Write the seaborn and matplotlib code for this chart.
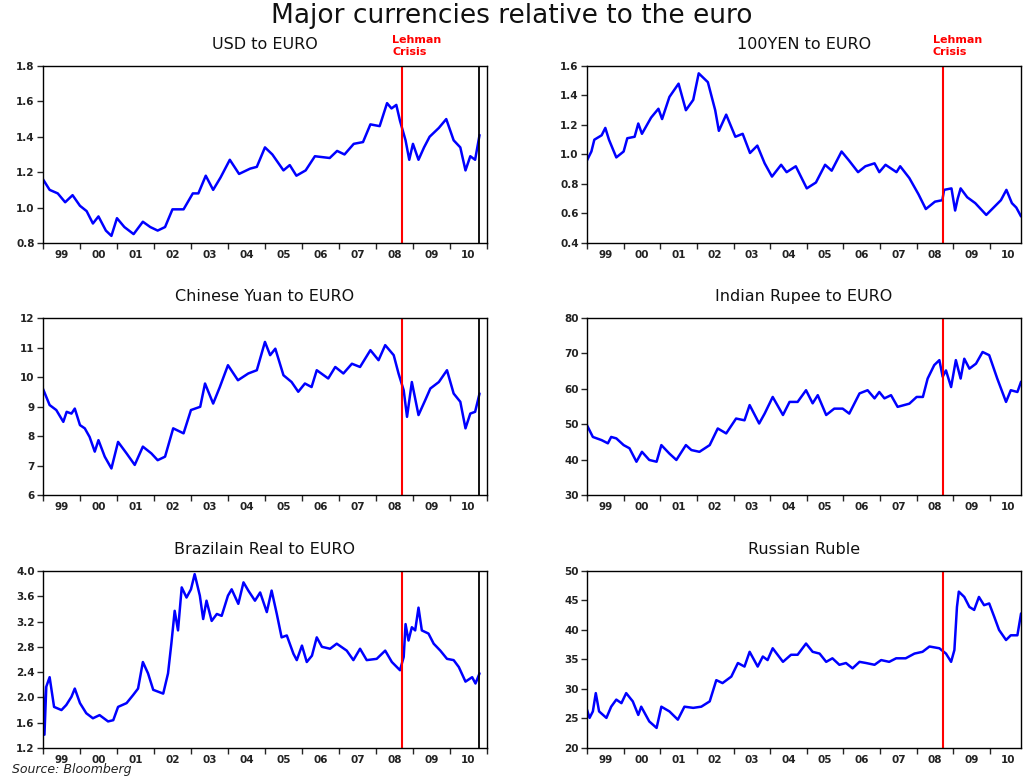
import pandas as pd
import seaborn as sns
import matplotlib.pyplot as plt
from matplotlib.ticker import FixedLocator, NullFormatter

# Values (decimal year, rate)
usd_t = [1999.0, 1999.18, 1999.4, 1999.6, 1999.8, 2000.0, 2000.18, 2000.35, 2000.5, 2000.7, 2000.85,
         2001.0, 2001.2, 2001.45, 2001.7, 2001.9, 2002.1, 2002.3, 2002.5, 2002.8, 2003.05, 2003.2,
         2003.4, 2003.6, 2003.8, 2004.05, 2004.3, 2004.6, 2004.78, 2005.0, 2005.2, 2005.5, 2005.67,
         2005.85, 2006.1, 2006.35, 2006.75, 2006.95, 2007.15, 2007.4, 2007.65, 2007.85, 2008.1,
         2008.3, 2008.42, 2008.55, 2008.65, 2008.8, 2008.9, 2009.0, 2009.15, 2009.3, 2009.45,
         2009.7, 2009.9, 2010.1, 2010.28, 2010.42, 2010.55, 2010.68, 2010.8]
usd_v = [1.16, 1.10, 1.08, 1.03, 1.07, 1.01, 0.98, 0.91, 0.95, 0.87, 0.84,
         0.94, 0.89, 0.85, 0.92, 0.89, 0.87, 0.89, 0.99, 0.99, 1.08, 1.08,
         1.18, 1.10, 1.17, 1.27, 1.19, 1.22, 1.23, 1.34, 1.30, 1.21, 1.24,
         1.18, 1.21, 1.29, 1.28, 1.32, 1.30, 1.36, 1.37, 1.47, 1.46,
         1.59, 1.56, 1.58, 1.49, 1.38, 1.27, 1.36, 1.27, 1.34, 1.40,
         1.45, 1.50, 1.38, 1.34, 1.21, 1.29, 1.27, 1.41]

yen_t = [1999.0, 1999.12, 1999.2, 1999.4, 1999.5, 1999.6, 1999.8, 2000.0, 2000.1, 2000.3, 2000.4,
         2000.5, 2000.75, 2000.95, 2001.05, 2001.25, 2001.5, 2001.7, 2001.9, 2002.05, 2002.3,
         2002.5, 2002.6, 2002.8, 2003.05, 2003.25, 2003.45, 2003.65, 2003.85, 2004.05, 2004.3,
         2004.45, 2004.7, 2005.0, 2005.25, 2005.5, 2005.68, 2005.95, 2006.15, 2006.4, 2006.6,
         2006.85, 2006.98, 2007.15, 2007.45, 2007.55, 2007.8, 2008.05, 2008.25, 2008.5, 2008.7,
         2008.75, 2008.95, 2009.05, 2009.12, 2009.2, 2009.38, 2009.6, 2009.9, 2010.1, 2010.3,
         2010.45, 2010.6, 2010.72, 2010.85]
yen_v = [0.96, 1.02, 1.10, 1.13, 1.18, 1.10, 0.98, 1.02, 1.11, 1.12, 1.21,
         1.14, 1.25, 1.31, 1.24, 1.39, 1.48, 1.30, 1.37, 1.55, 1.49,
         1.30, 1.16, 1.27, 1.12, 1.14, 1.01, 1.06, 0.94, 0.85, 0.93,
         0.88, 0.92, 0.77, 0.81, 0.93, 0.89, 1.02, 0.96, 0.88, 0.92,
         0.94, 0.88, 0.93, 0.88, 0.92, 0.84, 0.73, 0.63, 0.68, 0.69,
         0.76, 0.77, 0.62, 0.70, 0.77, 0.71, 0.67, 0.59, 0.64, 0.69,
         0.76, 0.67, 0.64, 0.58]

cny_t = [1999.0, 1999.18, 1999.36, 1999.55, 1999.64, 1999.77, 1999.86, 2000.0, 2000.13, 2000.26,
         2000.4, 2000.5, 2000.67, 2000.85, 2001.03, 2001.26, 2001.48, 2001.7, 2001.93, 2002.1,
         2002.3, 2002.52, 2002.8, 2003.0, 2003.25, 2003.38, 2003.6, 2003.78, 2004.0, 2004.27,
         2004.55, 2004.78, 2005.0, 2005.14, 2005.28, 2005.5, 2005.72, 2005.9, 2006.08, 2006.26,
         2006.4, 2006.71, 2006.9, 2007.12, 2007.35, 2007.57, 2007.85, 2008.07, 2008.25, 2008.48,
         2008.61, 2008.75, 2008.84, 2008.97, 2009.15, 2009.33, 2009.47, 2009.7, 2009.92, 2010.1,
         2010.28, 2010.42, 2010.55, 2010.68, 2010.8]
cny_v = [9.6, 9.05, 8.88, 8.48, 8.82, 8.76, 8.93, 8.37, 8.26, 7.97,
         7.47, 7.86, 7.3, 6.9, 7.8, 7.41, 7.02, 7.64, 7.41, 7.18,
         7.3, 8.26, 8.09, 8.88, 8.99, 9.78, 9.1, 9.66, 10.4, 9.89,
         10.12, 10.23, 11.19, 10.74, 10.96, 10.06, 9.83, 9.5, 9.78, 9.66,
         10.23, 9.95, 10.34, 10.12, 10.45, 10.34, 10.91, 10.57, 11.08, 10.74,
         10.12, 9.55, 8.65, 9.83, 8.71, 9.21, 9.61, 9.83, 10.23, 9.44,
         9.16, 8.26, 8.76, 8.82, 9.44]

inr_t = [1999.0, 1999.16, 1999.4, 1999.57, 1999.66, 1999.8, 2000.0, 2000.16, 2000.35, 2000.5,
         2000.7, 2000.9, 2001.03, 2001.25, 2001.44, 2001.7, 2001.85, 2002.07, 2002.35, 2002.57,
         2002.8, 2003.07, 2003.3, 2003.44, 2003.7, 2003.85, 2004.07, 2004.35, 2004.53, 2004.75,
         2004.98, 2005.16, 2005.3, 2005.53, 2005.75, 2005.98, 2006.16, 2006.44, 2006.66, 2006.85,
         2006.98, 2007.12, 2007.3, 2007.48, 2007.8, 2008.0, 2008.17, 2008.3, 2008.48, 2008.62,
         2008.71, 2008.8, 2008.94, 2009.07, 2009.2, 2009.3, 2009.44, 2009.62, 2009.8, 2009.98,
         2010.2, 2010.44, 2010.57, 2010.75, 2010.85]
inr_v = [49.7, 46.4, 45.5, 44.6, 46.4, 46.0, 44.1, 43.2, 39.4, 42.2,
         39.9, 39.4, 44.1, 41.7, 39.9, 44.1, 42.7, 42.2, 44.1, 48.8,
         47.4, 51.6, 51.1, 55.4, 50.2, 53.0, 57.7, 52.6, 56.3, 56.3,
         59.6, 55.9, 58.2, 52.6, 54.4, 54.4, 53.0, 58.7, 59.6, 57.3,
         59.1, 57.3, 58.2, 54.9, 55.8, 57.7, 57.7, 62.9, 66.7, 68.1,
         63.4, 65.2, 60.5, 68.1, 62.9, 68.5, 65.7, 67.1, 70.4, 69.5,
         62.9, 56.3, 59.6, 59.1, 62.0]

brl_t = [1999.0, 1999.04, 1999.09, 1999.18, 1999.3, 1999.5, 1999.63, 1999.77, 1999.86, 2000.0,
         2000.17, 2000.35, 2000.53, 2000.76, 2000.9, 2001.03, 2001.26, 2001.44, 2001.57, 2001.7,
         2001.84, 2001.98, 2002.25, 2002.38, 2002.47, 2002.56, 2002.65, 2002.75, 2002.88, 2003.0,
         2003.1, 2003.24, 2003.33, 2003.42, 2003.56, 2003.7, 2003.83, 2004.0, 2004.1, 2004.28,
         2004.42, 2004.55, 2004.73, 2004.87, 2005.05, 2005.18, 2005.32, 2005.45, 2005.59, 2005.77,
         2005.86, 2006.0, 2006.13, 2006.27, 2006.4, 2006.54, 2006.76, 2006.94, 2007.21, 2007.39,
         2007.57, 2007.75, 2008.02, 2008.25, 2008.43, 2008.65, 2008.75, 2008.8, 2008.88, 2008.97,
         2009.06, 2009.15, 2009.24, 2009.42, 2009.56, 2009.74, 2009.92, 2010.1, 2010.24, 2010.42,
         2010.6, 2010.69, 2010.8]
brl_v = [2.17, 1.41, 2.17, 2.32, 1.85, 1.80, 1.88, 2.01, 2.14, 1.91,
         1.75, 1.67, 1.72, 1.62, 1.64, 1.85, 1.91, 2.04, 2.14, 2.56,
         2.38, 2.12, 2.06, 2.38, 2.85, 3.37, 3.06, 3.74, 3.58, 3.71,
         3.95, 3.61, 3.24, 3.53, 3.21, 3.32, 3.29, 3.61, 3.71, 3.48,
         3.82, 3.69, 3.53, 3.66, 3.35, 3.69, 3.32, 2.95, 2.98, 2.69,
         2.59, 2.82, 2.56, 2.66, 2.95, 2.80, 2.77, 2.85, 2.74, 2.59,
         2.77, 2.59, 2.61, 2.74, 2.56, 2.43, 2.64, 3.16, 2.90, 3.11,
         3.06, 3.42, 3.06, 3.01, 2.85, 2.74, 2.61, 2.59, 2.48, 2.25,
         2.32, 2.22, 2.38]

rub_t = [1999.0, 1999.07, 1999.16, 1999.24, 1999.33, 1999.53, 1999.66, 1999.8, 1999.94, 2000.07,
         2000.25, 2000.4, 2000.48, 2000.7, 2000.9, 2001.03, 2001.25, 2001.48, 2001.66, 2001.9,
         2002.12, 2002.35, 2002.53, 2002.7, 2002.94, 2003.12, 2003.3, 2003.44, 2003.66, 2003.8,
         2003.93, 2004.07, 2004.35, 2004.57, 2004.75, 2004.98, 2005.16, 2005.35, 2005.53, 2005.7,
         2005.89, 2006.07, 2006.25, 2006.44, 2006.62, 2006.85, 2007.03, 2007.25, 2007.44, 2007.7,
         2007.94, 2008.16, 2008.35, 2008.62, 2008.8, 2008.94, 2009.03, 2009.1, 2009.15, 2009.3,
         2009.44, 2009.57, 2009.7, 2009.84, 2009.98, 2010.12, 2010.25, 2010.44, 2010.57, 2010.75,
         2010.85]
rub_v = [26.5, 25.1, 26.2, 29.3, 26.2, 25.1, 27.0, 28.2, 27.6, 29.3,
         27.9, 25.6, 27.0, 24.5, 23.4, 27.0, 26.2, 24.8, 27.0, 26.8,
         27.0, 27.9, 31.5, 31.0, 32.1, 34.4, 33.8, 36.3, 33.8, 35.5,
         34.9, 36.9, 34.6, 35.8, 35.8, 37.7, 36.3, 36.0, 34.6, 35.2,
         34.1, 34.4, 33.5, 34.6, 34.4, 34.1, 34.9, 34.6, 35.2, 35.2,
         36.0, 36.3, 37.2, 36.9, 36.0, 34.6, 36.6, 43.9, 46.5, 45.6,
         43.9, 43.4, 45.6, 44.2, 44.5, 42.2, 40.0, 38.3, 39.1, 39.1,
         42.8]

titles = ["USD to EURO", "100YEN to EURO", "Chinese Yuan to EURO",
          "Indian Rupee to EURO", "Brazilain Real to EURO", "Russian Ruble"]
ylims = [(0.8, 1.8), (0.4, 1.6), (6, 12), (30, 80), (1.2, 4.0), (20, 50)]
ysteps = [0.2, 0.2, 1, 10, 0.4, 5]
yfmt = ["{:.1f}", "{:.1f}", "{:.0f}", "{:.0f}", "{:.1f}", "{:.0f}"]
year_labels = ["99", "00", "01", "02", "03", "04", "05", "06", "07", "08", "09", "10"]
lehman = 2008.71
data_end = 2010.78

series = [(usd_t, usd_v), (yen_t, yen_v), (cny_t, cny_v),
          (inr_t, inr_v), (brl_t, brl_v), (rub_t, rub_v)]

sns.set_style("white")
plt.rcParams['font.family'] = ['DejaVu Sans']

fig = plt.figure(figsize=(10.23, 7.76), dpi=100)
fig.text(0.5, 0.979, "Major currencies relative to the euro", ha="center", va="center",
         fontsize=19, color="#111111")

lefts = [0.042, 0.5738]
widths = [0.434, 0.4243]
bottoms = [0.6869, 0.3621, 0.0361]
height = 0.2281

for i, (title, (t, v)) in enumerate(zip(titles, series)):
    row, col = divmod(i, 2)
    ax = fig.add_axes([lefts[col], bottoms[row], widths[col], height])
    df = pd.DataFrame({"year": t, "rate": v})
    sns.lineplot(data=df, x="year", y="rate", ax=ax, color="#0000ff", linewidth=1.8)

    xmax = 2011.0 if col == 0 else 2010.85
    ax.set_xlim(1999.0, xmax)
    lo, hi = ylims[i]
    ax.set_ylim(lo, hi)
    n = int(round((hi - lo) / ysteps[i]))
    yt = [lo + k * ysteps[i] for k in range(n + 1)]
    ax.set_yticks(yt)
    ax.set_yticklabels([yfmt[i].format(y) for y in yt])

    # year boundaries as tick marks, labels centred within each year
    ax.xaxis.set_major_locator(FixedLocator([1999 + k for k in range(13) if 1999 + k <= xmax]))
    ax.xaxis.set_major_formatter(NullFormatter())
    ax.xaxis.set_minor_locator(FixedLocator([1999.5 + k for k in range(12)]))
    ax.set_xticklabels(year_labels, minor=True)
    ax.tick_params(axis="x", which="major", direction="out", length=4, width=1, bottom=True)
    ax.tick_params(axis="x", which="minor", length=0, pad=5, labelsize=7.5)
    ax.tick_params(axis="y", direction="out", length=4, width=1, left=True, labelsize=7.5, pad=2)
    for lab in ax.get_xticklabels(minor=True) + ax.get_yticklabels():
        lab.set_fontweight("bold")
        lab.set_color("#222222")

    for s in ax.spines.values():
        s.set_visible(True)
        s.set_color("black")
        s.set_linewidth(1.0)

    ax.set_xlabel("")
    ax.set_ylabel("")
    ax.set_title(title, fontsize=11.5, pad=12, color="#111111")
    ax.axvline(lehman, color="red", linewidth=1.5)
    if col == 0:
        ax.axvline(data_end, color="black", linewidth=1.3)
    if row == 0:
        ax.annotate("Lehman\nCrisis", xy=(lehman, 1.0), xycoords=("data", "axes fraction"),
                    xytext=(-10, 9), textcoords="offset pixels", color="red",
                    fontsize=8, fontweight="bold", ha="left", va="bottom", linespacing=1.2)

fig.text(0.012, 0.004, "Source: Bloomberg", ha="left", va="baseline", fontsize=9,
         style="italic", color="#222222")

fig.savefig("out.png", dpi=100)
